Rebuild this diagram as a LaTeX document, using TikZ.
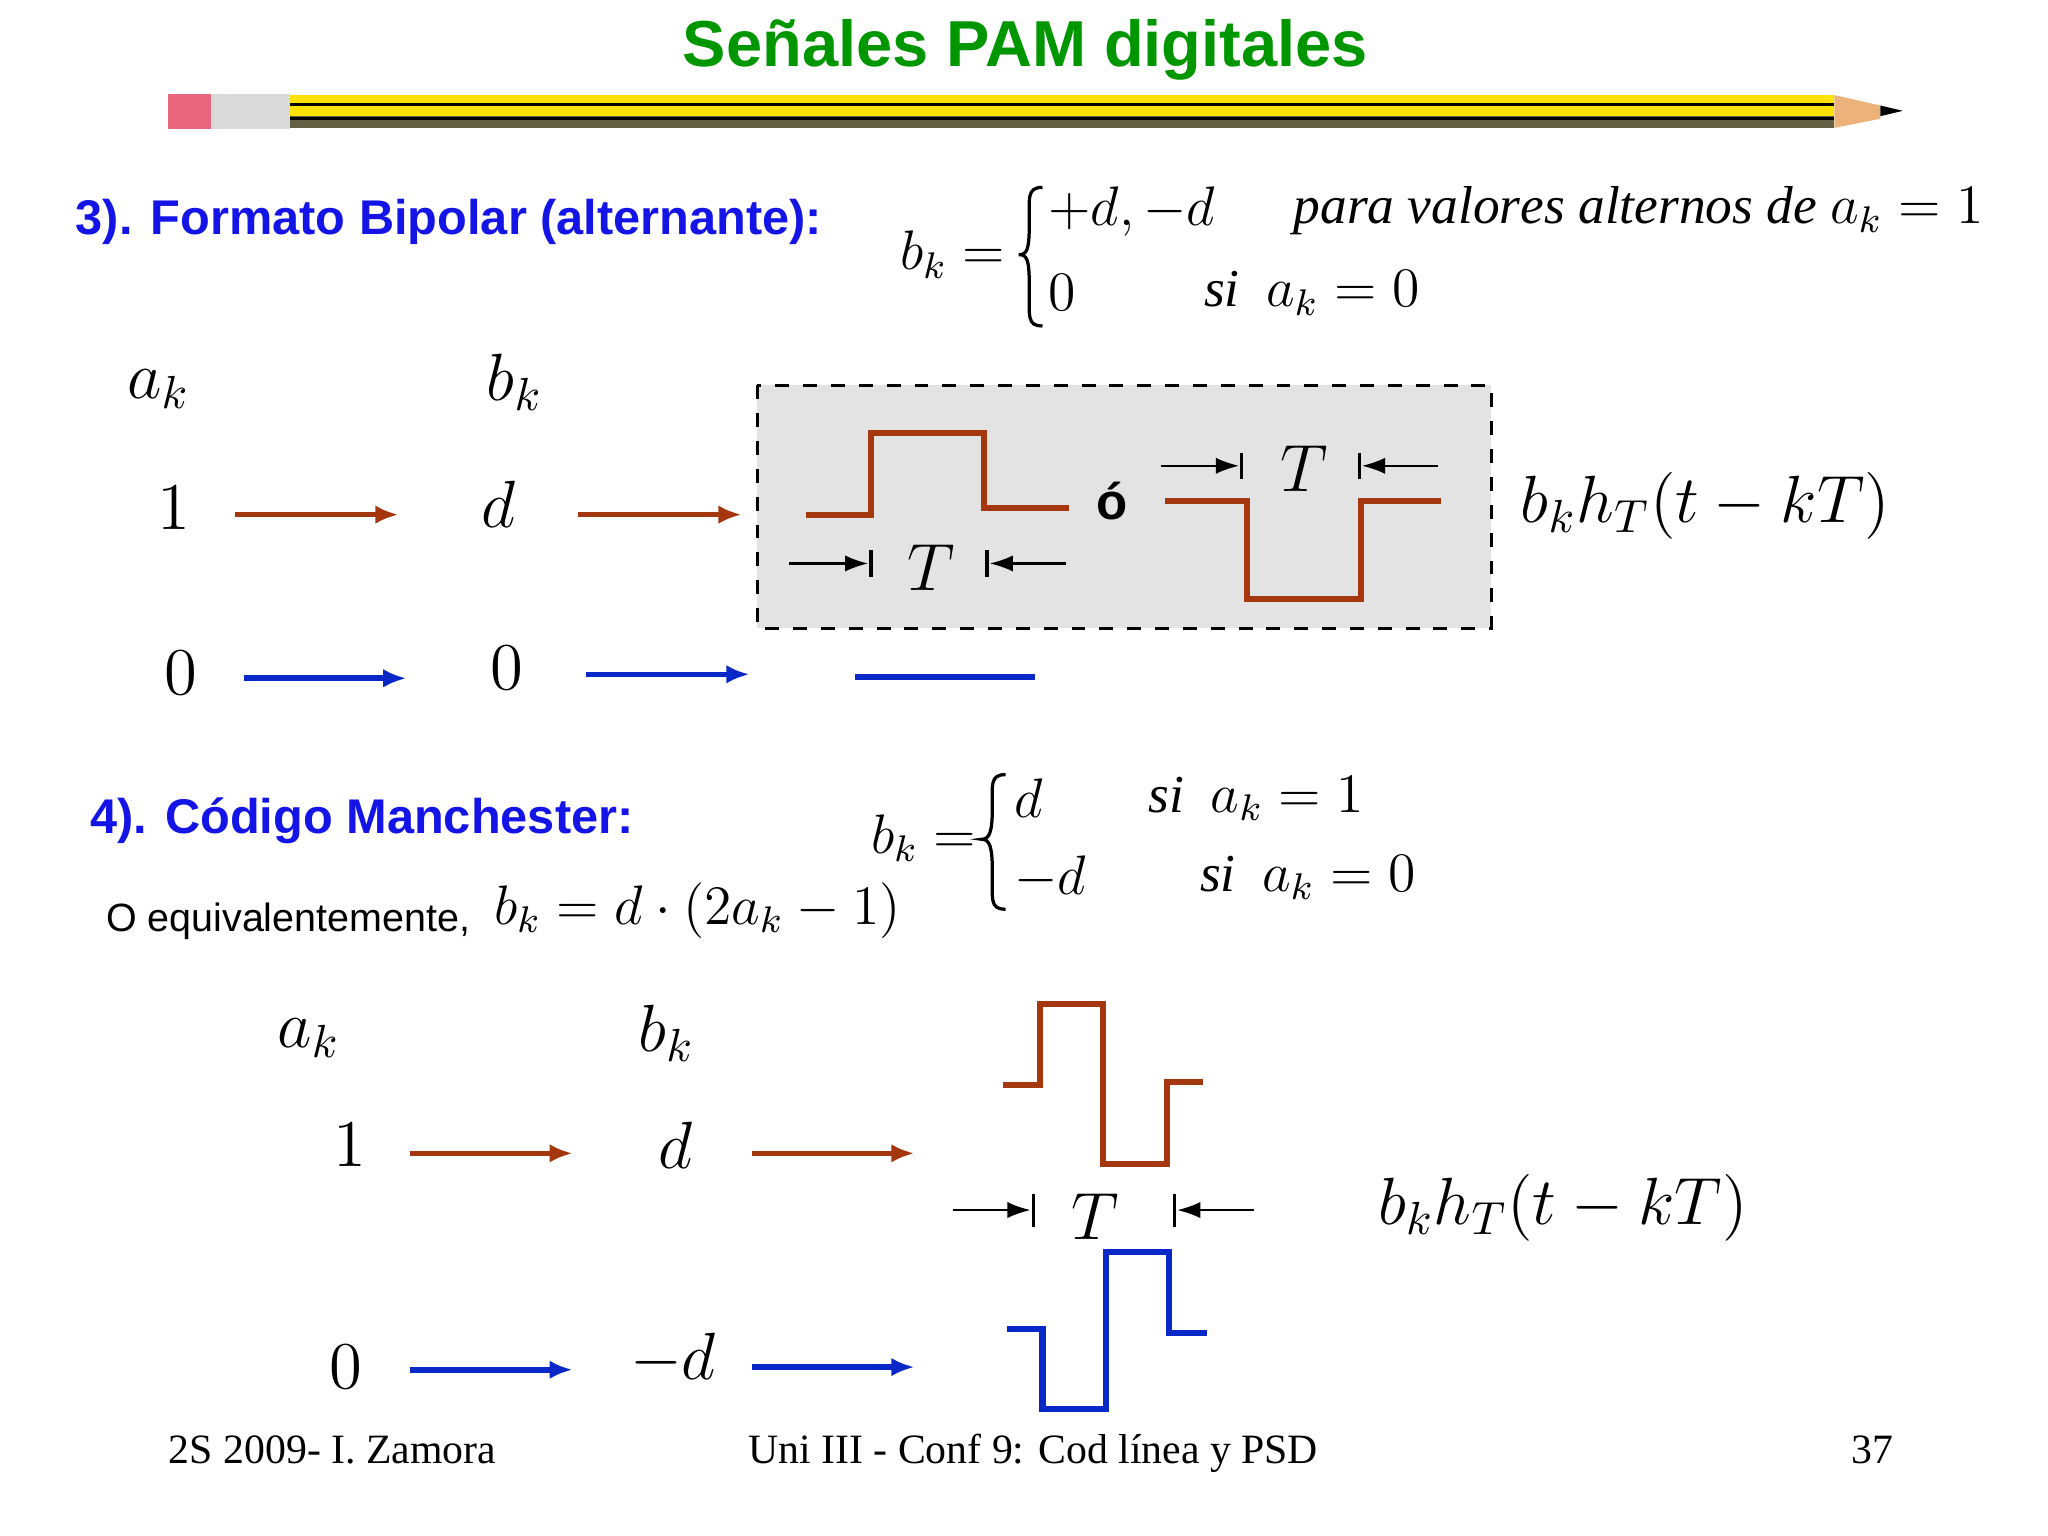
\documentclass[tikz,border=0pt]{standalone}
\usepackage{fontspec}
\setmainfont{Liberation Serif}
\setsansfont{Liberation Sans}
\usetikzlibrary{arrows.meta}
\definecolor{ttl}{RGB}{0,150,0}
\definecolor{hdr}{RGB}{20,20,230}
\definecolor{brn}{RGB}{165,55,15}
\definecolor{blu}{RGB}{10,40,200}
\tikzset{
 big/.style={font=\fontsize{14}{16}\selectfont},
 med/.style={font=\fontsize{11.5}{14}\selectfont},
 hd/.style={font=\sffamily\bfseries\fontsize{10.5}{13}\selectfont,text=hdr,anchor=west},
 ft/.style={font=\fontsize{9}{11}\selectfont,anchor=base},
 arb/.style={brn,line width=1.2pt,-{Latex[length=5pt,width=4pt]}},
 arl/.style={blu,line width=1.2pt,-{Latex[length=5pt,width=4pt]}},
 wb/.style={brn,line width=1.3pt},
 wl/.style={blu,line width=1.3pt},
 ta/.style={line width=0.5pt,-{Latex[length=5pt,width=3.5pt]}},
 bar/.style={line width=0.7pt},
}
\begin{document}
\begin{tikzpicture}[x=0.01cm,y=-0.01cm]
\useasboundingbox (0,0) rectangle (1552,1164);
% title
\node[font=\sffamily\bfseries\fontsize{14}{16}\selectfont,text=ttl] (title) at (777,38) {Señales PAM digitales};
% pencil
\fill[yellow!85!orange] (220,72) rectangle (1390,97);
\fill[black!70!yellow] (220,88) rectangle (1390,97);
\draw[black,line width=0.6pt] (220,79)--(1390,79) (220,90)--(1390,90);
\fill[gray!30] (160,71) rectangle (220,98);
\fill[red!40!purple!60] (127,71) rectangle (160,98);
\fill[orange!50!brown!60] (1390,72) -- (1425,80) -- (1425,90) -- (1390,97) -- cycle;
\fill[black] (1425,80) -- (1442,84) -- (1425,88) -- cycle;
% section 3
\node[hd] (h3) at (45,168) {3). Formato Bipolar (alternante):};
\node[med] (f1a) at (722,193) {$b_k=$};
\draw[line width=0.7pt] (790,142) .. controls (778,142) and (780,150) .. (780,170) .. controls (780,190) and (778,193) .. (772,193) .. controls (778,193) and (780,196) .. (780,216) .. controls (780,240) and (778,247) .. (790,247);
\node[med,anchor=west] (f1b) at (782,160) {$+d,-d$};
\node[med,anchor=west] (f1c) at (968,160) {$\mathit{para\ valores\ alternos\ de}\ a_k=1$};
\node[med,anchor=west] (f1d) at (782,222) {$0$};
\node[med,anchor=west] (f1e) at (900,222) {$\mathit{si}\ \ a_k=0$};
\node[big] (ak1) at (120,295) {$a_k$};
\node[big] (bk1) at (390,290) {$b_k$};
\node[big] (o1) at (132,385) {$1$};
\node[big] (d1) at (378,382) {$d$};
\node[big] (z1) at (137,510) {$0$};
\node[big] (z2) at (384,506) {$0$};
\coordinate (a1s) at (178,390); \coordinate (a1e) at (302,390);
\coordinate (a2s) at (438,390); \coordinate (a2e) at (562,390);
\coordinate (a3s) at (185,514); \coordinate (a3e) at (308,514);
\coordinate (a4s) at (444,511); \coordinate (a4e) at (568,511);
\draw[arb] (a1s)--(a1e); \draw[arb] (a2s)--(a2e);
\draw[arl] (a3s)--(a3e); \draw[arl] (a4s)--(a4e);
\draw[wl] (648,513)--(784,513);
\draw[dashed,fill=gray!22,line width=0.6pt] (574,292) rectangle (1130,476);
\draw[wb] (611,390)--(660,390)--(660,328)--(746,328)--(746,385)--(810,385);
\draw[ta] (598,427)--(658,427); \draw[bar] (660,417)--(660,437);
\draw[ta] (808,427)--(750,427); \draw[bar] (748,417)--(748,437);
\node[big] (T1) at (706,430) {$T$};
\node[font=\sffamily\bfseries\fontsize{11}{13}\selectfont] (oo) at (843,380) {ó};
\draw[wb] (883,380)--(945,380)--(945,454)--(1031,454)--(1031,380)--(1092,380);
\draw[ta] (880,353)--(939,353); \draw[bar] (941,343)--(941,363);
\draw[ta] (1090,353)--(1032,353); \draw[bar] (1030,343)--(1030,363);
\node[big] (T2) at (988,355) {$T$};
\node[big,anchor=west] (bh1) at (1140,383) {$b_k h_T(t-kT)$};
% section 4
\node[hd] (h4) at (56,622) {4). Código Manchester:};
\node[font=\sffamily\fontsize{8.5}{10}\selectfont,anchor=west] (oeq) at (68,698) {O equivalentemente,};
\node[med,anchor=west] (f2x) at (362,690) {$b_k=d\cdot(2a_k-1)$};
\node[med] (f2a) at (700,635) {$b_k=$};
\draw[line width=0.7pt] (762,587) .. controls (750,587) and (752,595) .. (752,612) .. controls (752,630) and (750,636) .. (744,636) .. controls (750,636) and (752,642) .. (752,660) .. controls (752,682) and (750,689) .. (762,689);
\node[med,anchor=west] (f2b) at (756,605) {$d$};
\node[med,anchor=west] (f2c) at (858,605) {$\mathit{si}\ \ a_k=1$};
\node[med,anchor=west] (f2d) at (756,665) {$-d$};
\node[med,anchor=west] (f2e) at (897,665) {$\mathit{si}\ \ a_k=0$};
\node[big] (ak2) at (234,787) {$a_k$};
\node[big] (bk2) at (505,783) {$b_k$};
\node[big] (o2) at (265,868) {$1$};
\node[big] (d2) at (512,868) {$d$};
\node[big] (z3) at (262,1036) {$0$};
\node[big] (md) at (510,1030) {$-d$};
\coordinate (b1s) at (311,874); \coordinate (b1e) at (434,874);
\coordinate (b2s) at (570,874); \coordinate (b2e) at (693,874);
\coordinate (b3s) at (311,1038); \coordinate (b3e) at (434,1038);
\coordinate (b4s) at (570,1036); \coordinate (b4e) at (693,1036);
\draw[arb] (b1s)--(b1e); \draw[arb] (b2s)--(b2e);
\draw[arl] (b3s)--(b3e); \draw[arl] (b4s)--(b4e);
\draw[wb] (760,822)--(788,822)--(788,761)--(836,761)--(836,882)--(884,882)--(884,820)--(912,820);
\draw[wl] (763,1007)--(790,1007)--(790,1068)--(838,1068)--(838,949)--(886,949)--(886,1010)--(915,1010);
\draw[ta] (722,917)--(781,917); \draw[bar] (783,905)--(783,930);
\draw[ta] (950,917)--(892,917); \draw[bar] (890,905)--(890,930);
\node[big] (T3) at (830,922) {$T$};
\node[big,anchor=west] (bh2) at (1032,915) {$b_k h_T(t-kT)$};
% footer
\node[ft] (fa) at (252,1109) {2S 2009- I. Zamora};
\node[ft] (fb) at (783,1109) {Uni III - Conf 9: Cod línea y PSD};
\node[ft] (fc) at (1419,1109) {37};
\end{tikzpicture}
\end{document}
